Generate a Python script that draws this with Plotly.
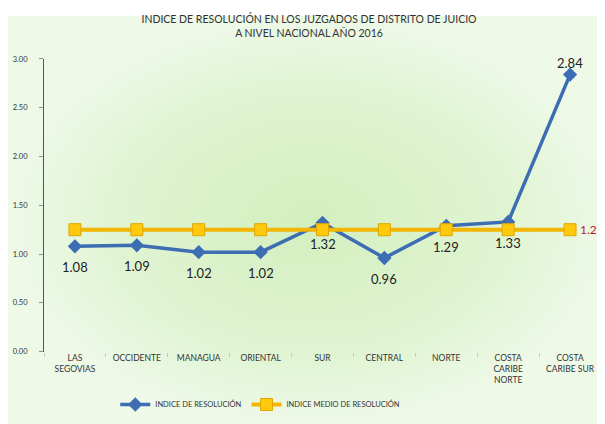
import plotly.graph_objects as go

# ---- data ----
categories = ["LAS SEGOVIAS", "OCCIDENTE", "MANAGUA", "ORIENTAL", "SUR",
              "CENTRAL", "NORTE", "COSTA CARIBE NORTE", "COSTA CARIBE SUR"]
tick_labels = ["LAS<br>SEGOVIAS", "OCCIDENTE", "MANAGUA", "ORIENTAL", "SUR",
               "CENTRAL", "NORTE", "COSTA<br>CARIBE<br>NORTE", "COSTA<br>CARIBE SUR"]
indice_resolucion = [1.08, 1.09, 1.02, 1.02, 1.32, 0.96, 1.29, 1.33, 2.84]
indice_medio = [1.25, 1.25, 1.25, 1.25, 1.25, 1.25, 1.25, 1.25, 1.25]
series_names = ["INDICE DE RESOLUCIÓN", "INDICE MEDIO DE RESOLUCIÓN"]
y_ticks = [0, 0.5, 1.0, 1.5, 2.0, 2.5, 3.0]

W, H = 605, 424
FONT = "Lato"
BLUE = "#3d6db3"
YELLOW_LINE = "#f2b500"
YELLOW_MARK = "#ffc90d"

fig = go.Figure()

# gradient background panel (decorative), on a full-paper pixel axis
fig.add_trace(go.Scatter(
    x=[0, W, W, 0, 0], y=[4, 4, H, H, 4],
    xaxis="x", yaxis="y", mode="lines", line=dict(width=0),
    fill="toself",
    fillgradient=dict(type="radial",
                      colorscale=[[0, "#d3efbe"], [0.65, "#e0f4d2"], [1, "#eef9e8"]]),
    hoverinfo="skip", showlegend=False,
))

fig.add_trace(go.Scatter(
    x=categories, y=indice_resolucion, name=series_names[0],
    xaxis="x2", yaxis="y2", mode="lines+markers",
    line=dict(color=BLUE, width=3.5),
    marker=dict(symbol="diamond", size=11, color=BLUE),
    cliponaxis=False,
))
fig.add_trace(go.Scatter(
    x=categories, y=indice_medio, name=series_names[1],
    xaxis="x2", yaxis="y2", mode="lines+markers",
    line=dict(color=YELLOW_LINE, width=4),
    marker=dict(symbol="square", size=12, color=YELLOW_MARK,
                line=dict(color="#e0a500", width=1)),
    cliponaxis=False,
))

annotations = []
for c, v in zip(categories, indice_resolucion):
    above = v == max(indice_resolucion)
    annotations.append(dict(
        x=c, y=v, xref="x2", yref="y2", text=f"{v:.2f}", showarrow=False,
        yshift=12 if above else -21,
        font=dict(family=FONT, size=13, color="#222222"),
    ))
annotations.append(dict(
    x=categories[-1], y=indice_medio[-1], xref="x2", yref="y2",
    text=f"{indice_medio[-1]:.2f}", showarrow=False, xanchor="left", xshift=8,
    font=dict(family=FONT, size=12, color="#c0142a"),
))

fig.update_layout(
    width=W, height=H,
    margin=dict(l=0, r=0, t=0, b=0),
    paper_bgcolor="white",
    plot_bgcolor="rgba(0,0,0,0)",
    font=dict(family=FONT, color="#333333"),
    title=dict(
        text="INDICE DE RESOLUCIÓN EN LOS JUZGADOS DE DISTRITO DE JUICIO<br>A NIVEL NACIONAL AÑO 2016",
        x=301 / W, xanchor="center", y=1 - 15 / H, yanchor="middle",
        font=dict(family=FONT, size=10.5, color="#333333"),
    ),
    xaxis=dict(domain=[0, 1], range=[0, W], visible=False, fixedrange=True),
    yaxis=dict(domain=[0, 1], range=[H, 0], visible=False, fixedrange=True),
    xaxis2=dict(
        domain=[36 / W, 593 / W], anchor="y2",
        type="category", categoryorder="array", categoryarray=categories,
        range=[-0.5, 8.5],
        tickvals=categories, ticktext=tick_labels,
        showline=False, showgrid=False, zeroline=False,
        ticks="outside", tickson="boundaries", ticklen=4, tickcolor="#c8c8c8",
        tickfont=dict(family=FONT, size=8.5, color="#333333"),
    ),
    yaxis2=dict(
        domain=[1 - 347 / H, 1 - 48 / H], anchor="x2",
        range=[0, 3], tickvals=y_ticks, tickformat=".2f",
        showline=True, linecolor="#555555", linewidth=1,
        showgrid=False, zeroline=False,
        ticks="outside", ticklen=4, tickcolor="#909090",
        ticklabelstandoff=10,
        tickfont=dict(family=FONT, size=7.5, color="#333333"),
    ),
    legend=dict(
        orientation="h", x=0.417, xanchor="center", y=1 - 401 / H, yanchor="middle",
        bgcolor="rgba(0,0,0,0)", font=dict(family=FONT, size=7.5, color="#333333"),
        itemwidth=30, tracegroupgap=0,
    ),
    annotations=annotations,
)

fig.write_html("out.html")
